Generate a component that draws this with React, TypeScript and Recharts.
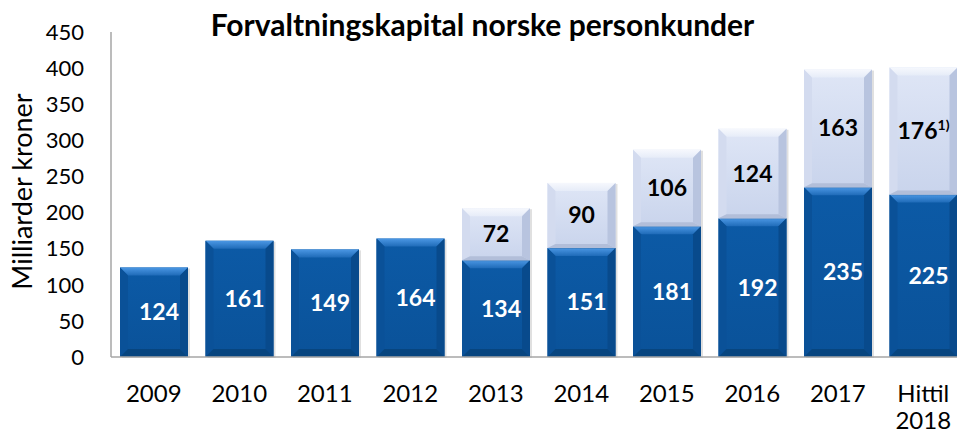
import { BarChart, Bar, XAxis, YAxis, LabelList } from "recharts";

// Forvaltningskapital norske personkunder (milliarder kroner)
const years = ["2009", "2010", "2011", "2012", "2013", "2014", "2015", "2016", "2017", "Hittil\n2018"];
const baseValues = [124, 161, 149, 164, 134, 151, 181, 192, 235, 225];
const topValues = [null, null, null, null, 72, 90, 106, 124, 163, 176];
const yTicks = [0, 50, 100, 150, 200, 250, 300, 350, 400, 450];

const data = years.map((year, i) => ({ year, base: baseValues[i], top: topValues[i] }));

const FONT = "Lato, 'Open Sans', sans-serif";
const AXIS = "#a6a6a6";

const tones = {
  dark: { faceA: "#0c5aa6", faceB: "#0a5299", topA: "#4b97e4", topB: "#1f6bb8", left: "#0a5198", right: "#084a8c", bottom: "#07457f" },
  light: { faceA: "#dfe6f6", faceB: "#c9d4ec", topA: "#f6f8fd", topB: "#e6ecf8", left: "#d3dbef", right: "#b8c4df", bottom: "#b2bed9" },
};

function BevelBar(props: any) {
  const { x, y, width, height, tone } = props;
  if (!height || height <= 0) return null;
  const c = tones[tone as "dark" | "light"];
  const b = Math.min(8, height / 2, width / 2);
  const bb = tone === "light" ? Math.min(4, b) : b;
  const id = "face-" + tone;
  const x2 = x + width;
  const y2 = y + height;
  return (
    <g>
      <defs>
        <linearGradient id={id} x1="0" y1="0" x2="0" y2="1">
          <stop offset="0%" stopColor={c.faceA} />
          <stop offset="100%" stopColor={c.faceB} />
        </linearGradient>
        <linearGradient id={id + "-top"} x1="0" y1="0" x2="0" y2="1">
          <stop offset="0%" stopColor={c.topA} />
          <stop offset="100%" stopColor={c.topB} />
        </linearGradient>
      </defs>
      <rect x={x + 2} y={y + 1} width={width} height={height} fill="rgba(0,0,0,0.12)" />
      <rect x={x} y={y} width={width} height={height} fill={`url(#${id})`} />
      <polygon points={`${x},${y} ${x2},${y} ${x2 - b},${y + b} ${x + b},${y + b}`} fill={`url(#${id}-top)`} />
      <polygon points={`${x},${y} ${x + b},${y + b} ${x + b},${y2 - bb} ${x},${y2}`} fill={c.left} />
      <polygon points={`${x2},${y} ${x2 - b},${y + b} ${x2 - b},${y2 - bb} ${x2},${y2}`} fill={c.right} />
      <polygon points={`${x},${y2} ${x + b},${y2 - bb} ${x2 - b},${y2 - bb} ${x2},${y2}`} fill={c.bottom} />
    </g>
  );
}

function ValueLabel(props: any) {
  const { x, y, width, height, value, index, color, shift } = props;
  if (value == null) return null;
  const cx = x + width / 2 + (shift || 0);
  const cy = y + height / 2;
  return (
    <text x={cx} y={cy} dy={8} textAnchor="middle" fill={color} fontFamily={FONT} fontWeight={700} fontSize={23}>
      {value}
      {color === "#000" && index === years.length - 1 && (
        <tspan dy={-9} fontSize={14}>1)</tspan>
      )}
    </text>
  );
}

function YearTick(props: any) {
  const { x, y, payload } = props;
  const lines = String(payload.value).split("\n");
  return (
    <text x={x} y={y} textAnchor="middle" fill="#000" fontFamily={FONT} fontSize={24}>
      {lines.map((line, i) => (
        <tspan key={i} x={x} dy={i === 0 ? 45 : 27}>{line}</tspan>
      ))}
    </text>
  );
}

function AxisTitle(props: any) {
  const vb = props.viewBox;
  const cx = vb.x + 23;
  const cy = vb.y + vb.height / 2 - 3;
  return (
    <text x={cx} y={cy} transform={`rotate(-90 ${cx} ${cy})`} dy={9} textAnchor="middle" fontFamily={FONT} fontSize={27} fill="#000">
      Milliarder kroner
    </text>
  );
}

export default function App() {
  return (
    <div style={{ position: "fixed", left: 0, top: 0, width: 957, height: 438, overflow: "hidden", background: "#fff" }}>
      <div style={{ position: "absolute", left: 0, top: 7, width: 965, textAlign: "center", fontFamily: FONT, fontWeight: 700, fontSize: 30, lineHeight: "34px" }}>
        Forvaltningskapital norske personkunder
      </div>
      <BarChart width={980} height={438} data={data} margin={{ top: 32, right: 14, bottom: 0, left: 0 }} barSize={68}>
        <XAxis dataKey="year" height={81} tick={<YearTick />} tickLine={false} tickSize={0} tickMargin={0} interval={0} stroke={AXIS} strokeWidth={1.5} />
        <YAxis
          width={111}
          domain={[0, 450]}
          ticks={yTicks}
          tickLine={false}
          tickSize={0}
          tickMargin={27}
          stroke={AXIS}
          strokeWidth={1.5}
          tick={{ fill: "#000", fontFamily: FONT, fontSize: 22 }}
          label={{ content: <AxisTitle /> }}
        />
        <Bar dataKey="base" stackId="a" isAnimationActive={false} shape={<BevelBar tone="dark" />}>
          <LabelList dataKey="base" content={<ValueLabel color="#fff" shift={5} />} />
        </Bar>
        <Bar dataKey="top" stackId="a" isAnimationActive={false} shape={<BevelBar tone="light" />}>
          <LabelList dataKey="top" content={<ValueLabel color="#000" />} />
        </Bar>
      </BarChart>
    </div>
  );
}
